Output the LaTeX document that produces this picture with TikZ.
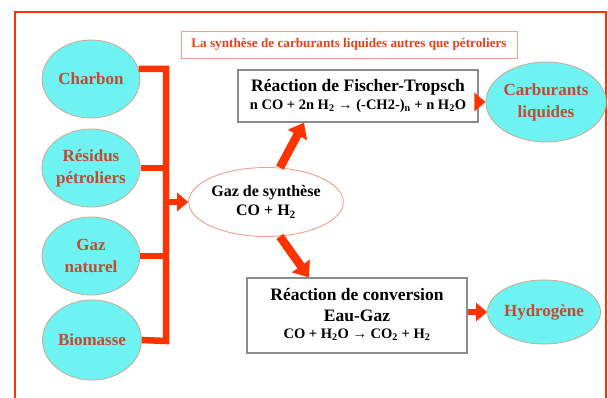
\documentclass[tikz,border=0pt]{standalone}
\usepackage{fontspec}
\setmainfont{Liberation Serif}
\usetikzlibrary{arrows.meta,shapes.geometric}
\definecolor{frame}{HTML}{FF3300}
\definecolor{cyanfill}{HTML}{6EF2F2}
\definecolor{ellborder}{HTML}{D0A890}
\definecolor{elltext}{HTML}{C24A30}
\definecolor{titlered}{HTML}{E8401C}
\definecolor{titleborder}{HTML}{F0A090}
\definecolor{boxborder}{HTML}{8C8C8C}
\newcommand{\bigline}{\fontsize{17.5}{21}\selectfont\bfseries}
\newcommand{\eqline}{\fontsize{14.5}{17}\selectfont\bfseries}
\tikzset{
  source/.style={ellipse, draw=ellborder, line width=0.8pt, fill=cyanfill, inner sep=0pt,
    minimum width=98pt, minimum height=78pt, text=elltext, align=center,
    font=\fontsize{17}{22}\selectfont\bfseries},
  reacbox/.style={rectangle, draw=boxborder, line width=1.2pt, fill=white, inner sep=0pt},
  bar/.style={draw=frame, line width=6.5pt, line join=miter},
  arr/.style={draw=frame, line width=6.5pt, -{Triangle[width=18pt,length=11pt]}},
  bigarr/.style={draw=frame, line width=8.5pt, -{Triangle[width=21pt,length=14pt]}},
}
\begin{document}
\begin{tikzpicture}[x=1pt,y=-1pt]
\useasboundingbox (0,0) rectangle (608,397);
\fill[white] (0,0) rectangle (608,397);
% outer frame (open at the bottom)
\draw[frame, line width=2.6pt] (15,400) -- (15,12) -- (606,12) -- (606,400);
% title
\node[draw=titleborder, line width=0.9pt, minimum width=336pt, minimum height=27pt, inner sep=0pt,
      text=titlered, font=\fontsize{13.2}{15}\selectfont\bfseries] (title) at (349,44.5)
  {La synthèse de carburants liquides autres que pétroliers};
% sources
\node[source] (charbon) at (91,79) {Charbon};
\node[source] (residus) at (91,168) {Résidus\\pétroliers};
\node[source] (gaz) at (91,256) {Gaz\\naturel};
\node[source, minimum width=99pt, minimum height=80pt] (biomasse) at (92,340) {Biomasse};
% syngas
\node[ellipse, draw=titleborder, line width=0.9pt, fill=white, minimum width=117pt, minimum height=69pt,
      inner sep=0pt, align=center, font=\fontsize{16}{19}\selectfont\bfseries] (syn) at (266,202)
  {Gaz de synthèse\\CO + H\textsubscript{2}};
% reaction boxes
\node[reacbox, minimum width=240pt, minimum height=52pt] (ft) at (358,96)
  {\bigline\begin{tabular}{@{}c@{}}
   \bigline Réaction de Fischer-Tropsch\\[-3pt]
   \eqline n CO + 2n H\textsubscript{2} → (-CH2-)\textsubscript{n} + n H\textsubscript{2}O
   \end{tabular}};
\node[reacbox, minimum width=220pt, minimum height=75pt] (conv) at (357,315.5)
  {\bigline\begin{tabular}{@{}c@{}}
   \bigline Réaction de conversion\\
   \bigline Eau-Gaz\\[-4pt]
   \eqline CO + H\textsubscript{2}O → CO\textsubscript{2} + H\textsubscript{2}
   \end{tabular}};
% products
\node[source, minimum width=98pt, minimum height=80pt] (carb) at (546,102) {Carburants\\liquides};
\node[source, minimum width=94pt, minimum height=64pt] (hyd) at (544,312) {Hydrogène};
% collector
\coordinate (bb) at (166,341);
\draw[bar] (charbon.12) -| (bb) -- (biomasse.east);
\draw[bar] (residus.east) -- (residus.east -| bb);
\draw[bar] (gaz.east) -- (gaz.east -| bb);
\draw[arr] (bb |- syn.west) -- (syn.west);
% syngas to reactions
\draw[bigarr] (syn.68) -- (ft.south -| 304,0);
\draw[bigarr] (syn.-68) -- (conv.north -| 309,0);
% reactions to products
\draw[arr] (ft.east |- carb.west) -- (carb.west);
\draw[arr] (conv.east |- hyd.west) -- (hyd.west);
\end{tikzpicture}
\end{document}
